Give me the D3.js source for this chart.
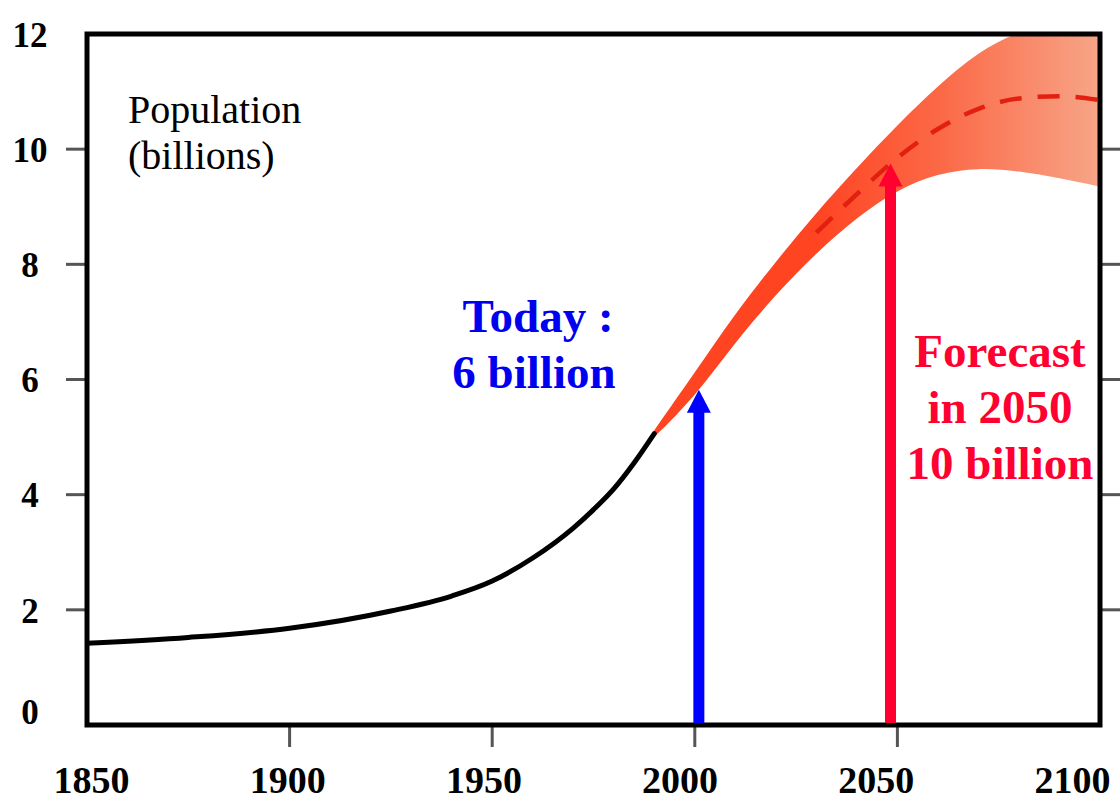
<!DOCTYPE html>
<html>
<head>
<meta charset="utf-8">
<script src="https://cdn.jsdelivr.net/npm/d3@7"></script>
<style>
  body { margin: 0; background: #fff; }
  svg { display: block; }
  text { font-family: "Liberation Serif", "Times New Roman", serif; }
</style>
</head>
<body>
<div id="chart"></div>
<script>
// observed population (billions)
const histYears = [1850, 1875, 1900, 1925, 1940, 1950, 1960, 1970, 1975, 1980, 1985, 1990];
const histPop   = [1.42, 1.52, 1.68, 1.98, 2.24, 2.5, 2.9, 3.42, 3.74, 4.1, 4.55, 5.06];

// projection band
const projYears = [1990, 2000, 2010, 2020, 2030, 2040, 2050, 2060, 2070, 2080, 2090, 2100];
const projLow   = [5.0, 5.7, 6.65, 7.48, 8.2, 8.82, 9.3, 9.58, 9.68, 9.62, 9.5, 9.35];
const projMid   = [5.06, 5.9, 6.9, 7.78, 8.55, 9.22, 9.85, 10.35, 10.7, 10.88, 10.92, 10.85];
const projHigh  = [5.12, 6.12, 7.15, 8.05, 8.9, 9.68, 10.42, 11.1, 11.7, 12.05, 12.2, 12.25];

// arrows
const arrowYears = [2001, 2048.3];
const arrowTips  = [5.82, 9.75];

const xTicks = [1850, 1900, 1950, 2000, 2050, 2100];
const yTicks = [0, 2, 4, 6, 8, 10, 12];

const W = 1120, H = 801;
const svg = d3.select("#chart").append("svg")
    .attr("width", W)
    .attr("height", H);

const x = d3.scaleLinear().domain([1850, 2100]).range([87, 1100]);
const y = d3.scaleLinear().domain([0, 12]).range([725, 34]);
// the printed year labels sit a little off their ticks
const xLab = d3.scaleLinear().domain([1850, 2100]).range([91, 1072]);

svg.append("clipPath").attr("id", "plot")
    .append("rect")
    .attr("x", x(1850)).attr("y", y(12))
    .attr("width", x(2100) - x(1850)).attr("height", y(0) - y(12));

// tick marks outside the frame
const tickCol = "#555";
svg.append("g").selectAll("line")
    .data(yTicks.filter(d => d > 0 && d < 12))
    .join("line")
    .attr("x1", x(1850) - 21).attr("x2", x(1850))
    .attr("y1", d => y(d)).attr("y2", d => y(d))
    .attr("stroke", tickCol).attr("stroke-width", 3);
svg.append("g").selectAll("line")
    .data(yTicks.filter(d => d > 0 && d < 12))
    .join("line")
    .attr("x1", x(2100)).attr("x2", W)
    .attr("y1", d => y(d)).attr("y2", d => y(d))
    .attr("stroke", tickCol).attr("stroke-width", 3);
svg.append("g").selectAll("line")
    .data(xTicks.filter(d => d > 1850 && d < 2100))
    .join("line")
    .attr("x1", d => x(d)).attr("x2", d => x(d))
    .attr("y1", y(0)).attr("y2", y(0) + 22)
    .attr("stroke", tickCol).attr("stroke-width", 3);

// axis labels
const yAxis = d3.axisLeft(y).tickValues(yTicks).tickSize(0).tickPadding(0);
const yG = svg.append("g").attr("transform", "translate(30,0)").call(yAxis);
yG.select(".domain").remove();
yG.selectAll("text")
    .attr("text-anchor", "middle")
    .attr("dy", d => d === 0 ? "-0.05em" : "0.35em")
    .style("font-size", "35px")
    .style("font-weight", "bold")
    .attr("fill", "#000");

const xAxis = d3.axisBottom(xLab).tickValues(xTicks).tickFormat(d3.format("d")).tickSize(0).tickPadding(0);
const xG = svg.append("g").attr("transform", "translate(0,766)").call(xAxis);
xG.select(".domain").remove();
xG.selectAll("text")
    .attr("dy", "0.71em")
    .style("font-size", "38px")
    .style("font-weight", "bold")
    .attr("fill", "#000");

// projection band
const grad = svg.append("defs").append("linearGradient")
    .attr("id", "bandGrad")
    .attr("gradientUnits", "userSpaceOnUse")
    .attr("x1", x(2030)).attr("x2", x(2100))
    .attr("y1", 0).attr("y2", 0);
grad.append("stop").attr("offset", 0).attr("stop-color", "#ff4422");
grad.append("stop").attr("offset", 0.45).attr("stop-color", "#fb6a48");
grad.append("stop").attr("offset", 1).attr("stop-color", "#f7a588");

const band = projYears.map((yr, i) => ({ yr, lo: projLow[i], mid: projMid[i], hi: projHigh[i] }));
const plotG = svg.append("g").attr("clip-path", "url(#plot)");

plotG.append("path")
    .datum(band)
    .attr("d", d3.area()
        .x(d => x(d.yr))
        .y0(d => y(d.lo))
        .y1(d => y(d.hi))
        .curve(d3.curveBasis))
    .attr("fill", "url(#bandGrad)");

plotG.append("path")
    .datum(band.filter(d => d.yr >= 2030))
    .attr("d", d3.line()
        .x(d => x(d.yr))
        .y(d => y(d.mid))
        .curve(d3.curveMonotoneX))
    .attr("fill", "none")
    .attr("stroke", "#e3200f")
    .attr("stroke-width", 4.5)
    .attr("stroke-dasharray", "22 16");

// observed line
const hist = histYears.map((yr, i) => ({ yr, v: histPop[i] }));
plotG.append("path")
    .datum(hist)
    .attr("d", d3.line()
        .x(d => x(d.yr))
        .y(d => y(d.v))
        .curve(d3.curveMonotoneX))
    .attr("fill", "none")
    .attr("stroke", "#000")
    .attr("stroke-width", 5)
    .attr("stroke-linecap", "round");

// frame
svg.append("rect")
    .attr("x", x(1850)).attr("y", y(12))
    .attr("width", x(2100) - x(1850)).attr("height", y(0) - y(12))
    .attr("fill", "none")
    .attr("stroke", "#000")
    .attr("stroke-width", 5);

// arrows
const arrowCols = ["#0000ff", "#ff0030"];
arrowYears.forEach((yr, i) => {
    const ax = x(yr), tip = y(arrowTips[i]), base = y(0) - 2;
    svg.append("line")
        .attr("x1", ax).attr("x2", ax)
        .attr("y1", base).attr("y2", tip + 20)
        .attr("stroke", arrowCols[i])
        .attr("stroke-width", 11);
    svg.append("path")
        .attr("d", `M${ax},${tip} L${ax - 12},${tip + 23} L${ax + 12},${tip + 23} Z`)
        .attr("fill", arrowCols[i]);
});

// titles and notes
const unitLabel = svg.append("text")
    .attr("x", 128).attr("y", 123)
    .style("font-size", "40px")
    .attr("fill", "#000");
unitLabel.append("tspan").attr("x", 128).text("Population");
unitLabel.append("tspan").attr("x", 128).attr("dy", 46).text("(billions)");

const today = svg.append("text")
    .attr("text-anchor", "middle")
    .attr("y", 332)
    .style("font-size", "47px")
    .style("font-weight", "bold")
    .attr("fill", "#0000f0");
today.append("tspan").attr("x", 538).text("Today :");
today.append("tspan").attr("x", 534).attr("dy", 56).text("6 billion");

const fc = svg.append("text")
    .attr("text-anchor", "middle")
    .attr("y", 367)
    .style("font-size", "47px")
    .style("font-weight", "bold")
    .attr("fill", "#ff0030");
["Forecast", "in 2050", "10 billion"].forEach((t, i) => {
    fc.append("tspan").attr("x", 1000).attr("dy", i ? 56 : 0).text(t);
});
</script>
</body>
</html>
